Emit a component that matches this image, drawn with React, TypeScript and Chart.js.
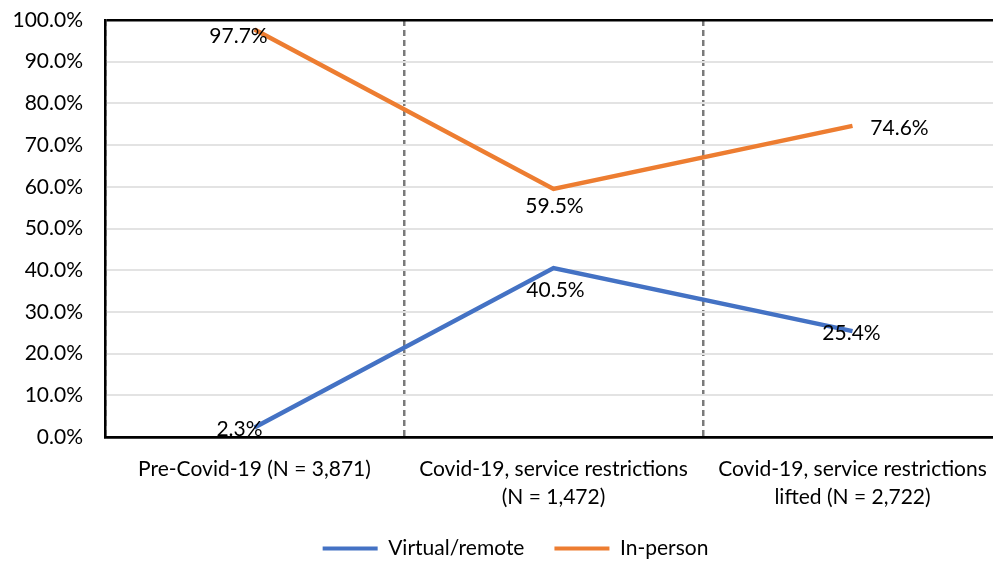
import React, { useEffect, useRef } from "react";
import { Chart, registerables } from "chart.js";

Chart.register(...registerables);

const categories: string[][] = [
  ["Pre-Covid-19 (N = 3,871)"],
  ["Covid-19, service restrictions", "(N = 1,472)"],
  ["Covid-19, service restrictions", "lifted (N = 2,722)"],
];
const virtualRemote: number[] = [2.3, 40.5, 25.4];
const inPerson: number[] = [97.7, 59.5, 74.6];
const seriesNames: string[] = ["Virtual/remote", "In-person"];

// label offsets (styling) relative to each point: [dx, dy]
const LABEL_OFFSETS: number[][][] = [
  [[-15, 2], [2, 22], [-1, 2]],
  [[-16, 7], [1, 17], [47, 2]],
];

const FONT = "Lato, 'Open Sans', sans-serif";
const TEXT = "#000000";
const FS = 21;

const labelPlugin = {
  id: "pointLabels",
  afterLayout(chart: any) {
    // let the y tick labels use the full left margin (no clipping)
    if (chart.scales.y) chart.scales.y.left = 0;
  },
  afterDatasetsDraw(chart: any) {
    const ctx = chart.ctx;
    ctx.save();
    ctx.font = `${FS}px ${FONT}`;
    ctx.fillStyle = TEXT;
    ctx.textAlign = "center";
    ctx.textBaseline = "middle";
    chart.data.datasets.forEach((ds: any, di: number) => {
      const meta = chart.getDatasetMeta(di);
      meta.data.forEach((pt: any, i: number) => {
        const v = ds.data[i] as number;
        const off = LABEL_OFFSETS[di][i];
        ctx.fillText(v.toFixed(1) + "%", pt.x + off[0], pt.y + off[1]);
      });
    });
    ctx.restore();
  },
};

export default function App() {
  const ref = useRef<HTMLCanvasElement | null>(null);
  useEffect(() => {
    if (!ref.current) return;
    const chart = new Chart(ref.current, {
      type: "line",
      data: {
        labels: categories,
        datasets: [
          {
            label: seriesNames[0],
            data: virtualRemote,
            borderColor: "#4472C4",
            backgroundColor: "#4472C4",
            borderWidth: 4.5,
            pointRadius: 0,
            tension: 0,
          },
          {
            label: seriesNames[1],
            data: inPerson,
            borderColor: "#ED7D31",
            backgroundColor: "#ED7D31",
            borderWidth: 4.5,
            pointRadius: 0,
            tension: 0,
          },
        ],
      },
      options: {
        animation: false,
        responsive: true,
        maintainAspectRatio: false,
        layout: { padding: { top: 20, left: 26, right: 1, bottom: -8 } },
        scales: {
          x: {
            offset: true,
            afterFit: (scale: any) => {
              scale.height = 71;
            },
            grid: {
              offset: true,
              display: true,
              drawOnChartArea: true,
              drawTicks: false,
              color: "#7a7a7a",
              lineWidth: 2.5,
            },
            border: { display: true, color: "#000000", width: 2.5, dash: [6, 4] },
            ticks: {
              color: TEXT,
              font: { family: FONT, size: FS, lineHeight: 1.3 },
              padding: 19,
              maxRotation: 0,
              autoSkip: false,
            },
          },
          y: {
            min: 0,
            max: 100,
            afterFit: (scale: any) => {
              scale.width = 79;
              scale.paddingTop = 10;
              scale.paddingBottom = 10;
            },
            grid: {
              drawTicks: false,
              color: (c: any) =>
                c.tick && (c.tick.value === 100 || c.tick.value === 0) ? "#000000" : "#e3e3e3",
              lineWidth: (c: any) =>
                c.tick && (c.tick.value === 100 || c.tick.value === 0) ? 2.5 : 2,
            },
            border: { display: true, color: "#000000", width: 2.5 },
            ticks: {
              stepSize: 10,
              color: TEXT,
              font: { family: FONT, size: FS },
              padding: 22,
              callback: (v: any) => Number(v).toFixed(1) + "%",
            },
          },
        },
        plugins: {
          legend: {
            position: "bottom",
            labels: {
              color: TEXT,
              font: { family: FONT, size: FS },
              boxWidth: 55,
              boxHeight: 4,
              padding: 30,
              generateLabels: (chart: any) =>
                chart.data.datasets.map((ds: any, i: number) => ({
                  text: ds.label,
                  fillStyle: ds.borderColor,
                  strokeStyle: ds.borderColor,
                  lineWidth: 0,
                  hidden: false,
                  datasetIndex: i,
                  fontColor: TEXT,
                })),
            },
          },
          tooltip: { enabled: false },
        },
      },
      plugins: [labelPlugin],
    });
    return () => chart.destroy();
  }, []);

  return (
    <div
      style={{
        position: "fixed",
        left: 0,
        top: 0,
        width: 993,
        height: 561,
        overflow: "hidden",
        background: "#ffffff",
      }}
    >
      <div style={{ position: "relative", width: 1006, height: 561 }}>
        <canvas ref={ref} />
      </div>
    </div>
  );
}
